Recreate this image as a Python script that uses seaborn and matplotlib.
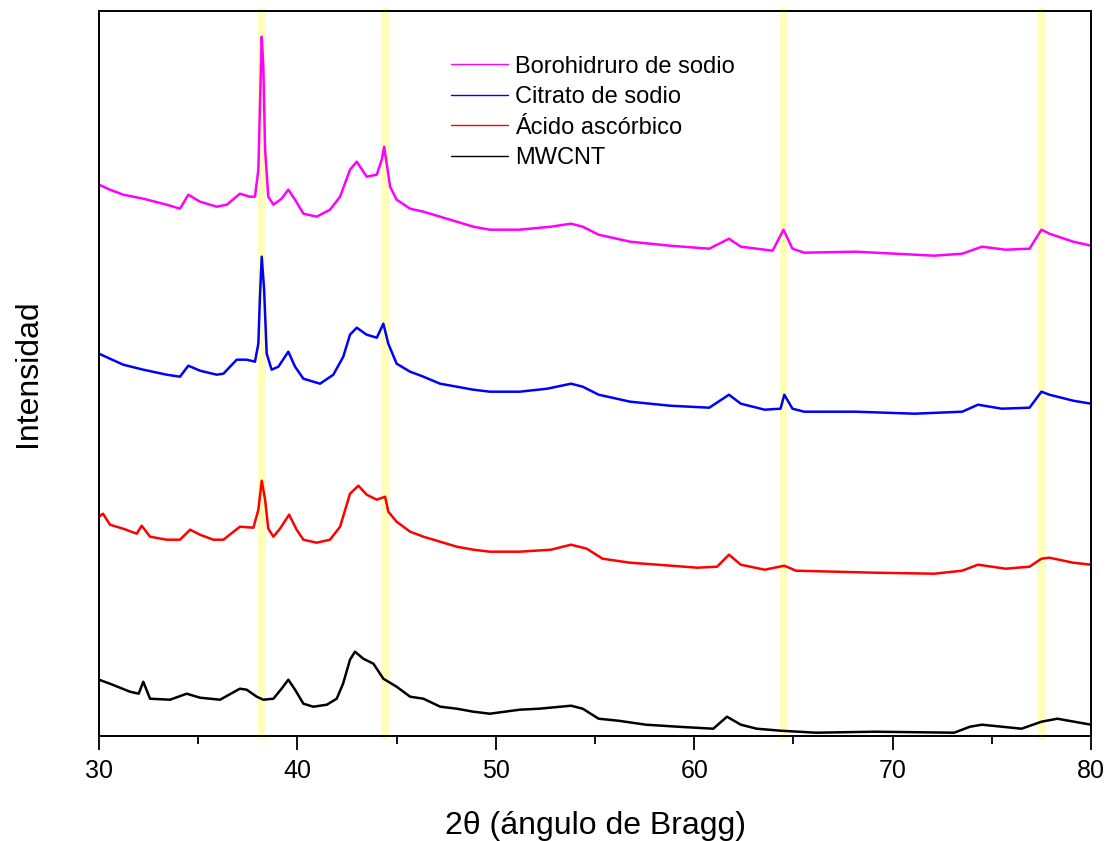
import numpy as np
import pandas as pd
import matplotlib
matplotlib.use("Agg")
import matplotlib.pyplot as plt
from matplotlib.ticker import MultipleLocator
import seaborn as sns

# ---- data (intensity in arbitrary units) ----
labels = ["Borohidruro de sodio", "Citrato de sodio", "Ácido ascórbico", "MWCNT"]
colors = ["#FF00FF", "#0000FF", "#FF0000", "#000000"]

mag_x = [30.0, 30.55, 31.22, 32.23, 33.41, 34.08, 34.5, 35.09, 35.93, 36.44, 37.1, 37.6, 37.86, 38.03, 38.11,
         38.2, 38.28, 38.37, 38.53, 38.79, 39.2, 39.54, 39.88, 40.3, 40.97, 41.64, 42.15, 42.65, 42.99, 43.49,
         44.0, 44.25, 44.37, 44.5, 44.67, 45.0, 45.68, 46.35, 47.19, 48.03, 48.87, 49.7, 51.2, 52.78, 53.79,
         54.38, 55.18, 56.77, 58.77, 60.76, 61.75, 62.35, 63.95, 64.5, 64.95, 65.54, 68.13, 71.12, 72.1, 73.51,
         74.5, 75.7, 76.9, 77.5, 77.9, 79.1, 80.0]
mag_y = [551, 546, 541, 537, 531, 527, 541, 534, 529, 531, 542, 539, 539, 566, 629,
         699, 669, 586, 539, 531, 537, 546, 536, 522, 519, 526, 539, 566, 574, 559,
         561, 576, 589, 572, 549, 536, 527, 524, 519, 514, 509, 506, 506, 509, 512,
         509, 501, 494, 490, 487, 497, 489, 485, 506, 487, 483, 484, 481, 480, 482,
         489, 486, 487, 506, 502, 494, 490]

blue_x = [30.0, 30.55, 31.22, 32.23, 33.41, 34.08, 34.5, 35.09, 35.93, 36.27, 36.94, 37.44, 37.86, 38.03, 38.11,
          38.2, 38.32, 38.45, 38.7, 39.04, 39.54, 39.88, 40.3, 41.14, 41.81, 42.31, 42.65, 42.99, 43.49, 44.0,
          44.33, 44.58, 45.0, 45.68, 46.35, 47.19, 48.03, 48.87, 49.7, 51.2, 52.59, 53.79, 54.38, 55.18, 56.77,
          58.77, 60.76, 61.75, 62.35, 63.55, 64.35, 64.54, 64.95, 65.54, 68.13, 71.12, 73.51, 74.3, 75.5, 76.9,
          77.5, 77.9, 79.1, 80.0]
blue_y = [382, 377, 371, 366, 361, 359, 370, 365, 361, 362, 376, 376, 374, 392, 439,
          479, 446, 382, 366, 369, 384, 369, 357, 352, 361, 379, 401, 408, 401, 398,
          412, 392, 372, 364, 359, 352, 349, 346, 344, 344, 347, 352, 349, 341, 334,
          330, 328, 341, 332, 326, 327, 341, 327, 324, 324, 322, 324, 331, 327, 328,
          344, 341, 335, 332]

red_x = [30.0, 30.2, 30.55, 31.22, 31.9, 32.15, 32.57, 33.41, 34.08, 34.59, 35.09, 35.76, 36.27, 37.1, 37.78,
         38.03, 38.2, 38.37, 38.53, 38.79, 39.12, 39.58, 39.96, 40.3, 40.97, 41.64, 42.15, 42.65, 43.07, 43.49,
         44.0, 44.42, 44.58, 45.0, 45.68, 46.35, 47.19, 48.03, 48.87, 49.7, 51.2, 52.78, 53.79, 54.58, 55.38,
         56.76, 58.17, 60.16, 61.15, 61.75, 62.35, 63.55, 64.54, 65.13, 67.13, 69.1, 72.1, 73.5, 74.3, 75.7,
         76.9, 77.5, 77.9, 79.1, 80.0]
red_y = [219, 222, 211, 207, 202, 210, 199, 196, 196, 206, 201, 196, 196, 209, 208,
         226, 255, 236, 207, 199, 207, 221, 206, 196, 193, 196, 209, 242, 250, 241,
         236, 239, 224, 214, 204, 199, 194, 189, 186, 184, 184, 186, 191, 187, 177,
         173, 171, 168, 169, 181, 171, 166, 170, 165, 164, 163, 162, 165, 171, 167,
         169, 177, 178, 173, 171]

mw_x = [30.0, 30.55, 31.56, 32.0, 32.23, 32.57, 33.58, 34.42, 35.09, 36.1, 37.1, 37.44, 37.95, 38.28, 38.79,
        39.2, 39.54, 39.88, 40.3, 40.8, 41.48, 41.98, 42.3, 42.65, 42.9, 43.32, 43.83, 44.33, 45.0, 45.68,
        46.35, 47.2, 48.03, 48.87, 49.7, 51.2, 52.19, 53.79, 54.38, 55.18, 56.17, 57.57, 59.16, 60.96, 61.65,
        62.35, 63.15, 64.35, 66.14, 69.1, 73.1, 73.9, 74.5, 76.5, 77.5, 78.3, 80.0]
mw_y = [56, 52, 44, 42, 54, 37, 36, 42, 38, 36, 47, 46, 39, 36, 37,
        47, 56, 46, 32, 29, 31, 37, 52, 76, 84, 77, 72, 57, 49, 39,
        37, 29, 27, 24, 22, 26, 27, 30, 27, 17, 15, 11, 9, 7, 19,
        11, 7, 5, 3, 4, 3, 9, 11, 7, 14, 17, 11]

band_centers = [38.2, 44.4, 64.5, 77.55]
xticks = [30, 40, 50, 60, 70, 80]

frames = []
for lab, xs, ys in zip(labels, [mag_x, blue_x, red_x, mw_x], [mag_y, blue_y, red_y, mw_y]):
    frames.append(pd.DataFrame({"theta": xs, "I": ys, "serie": lab}))
df = pd.concat(frames, ignore_index=True)

# ---- drawing ----
sns.set_style("ticks")
plt.rcParams["font.family"] = ["Liberation Sans", "DejaVu Sans"]
plt.rcParams["text.color"] = "black"
plt.rcParams["axes.labelcolor"] = "black"
plt.rcParams["xtick.color"] = "black"
plt.rcParams["ytick.color"] = "black"

fig = plt.figure(figsize=(11.09, 8.41), dpi=100)
ax = fig.add_axes([0.0893, 0.1252, 0.8945, 0.8621])

for c in band_centers:
    ax.axvspan(c - 0.2, c + 0.2, ymin=-0.006, ymax=1.004, color="#FFFFBB", lw=0, zorder=0, clip_on=False)

sns.lineplot(data=df, x="theta", y="I", hue="serie", hue_order=labels, palette=colors,
             sort=False, estimator=None, lw=1.8, ax=ax, zorder=2)

ax.set_xlim(30, 80)
ax.set_ylim(0, 725)
ax.set_xticks(xticks)
ax.xaxis.set_minor_locator(MultipleLocator(5))
ax.set_yticks([])
ax.tick_params(axis="x", which="major", direction="out", length=10, width=1.3, labelsize=18, pad=7,
               colors="black")
ax.tick_params(axis="x", which="minor", direction="out", length=6, width=1.3, colors="black")
for s in ax.spines.values():
    s.set_visible(True)
    s.set_linewidth(1.4)
    s.set_color("black")

ax.set_xlabel("2θ (ángulo de Bragg)", fontsize=23, color="black")
ax.set_ylabel("Intensidad", fontsize=23, color="black")
ax.xaxis.set_label_coords(0.5, -0.104)
ax.yaxis.set_label_coords(-0.056, 0.5)

leg = ax.legend(loc="upper left", bbox_to_anchor=(0.3548, 0.938), frameon=False, fontsize=17,
                borderpad=0, borderaxespad=0, handlelength=2.4, handletextpad=0.3, labelspacing=0.36)
for h in leg.get_lines():
    h.set_linewidth(1.0)
for t in leg.get_texts():
    t.set_color("black")

fig.savefig("out.png", dpi=100)
